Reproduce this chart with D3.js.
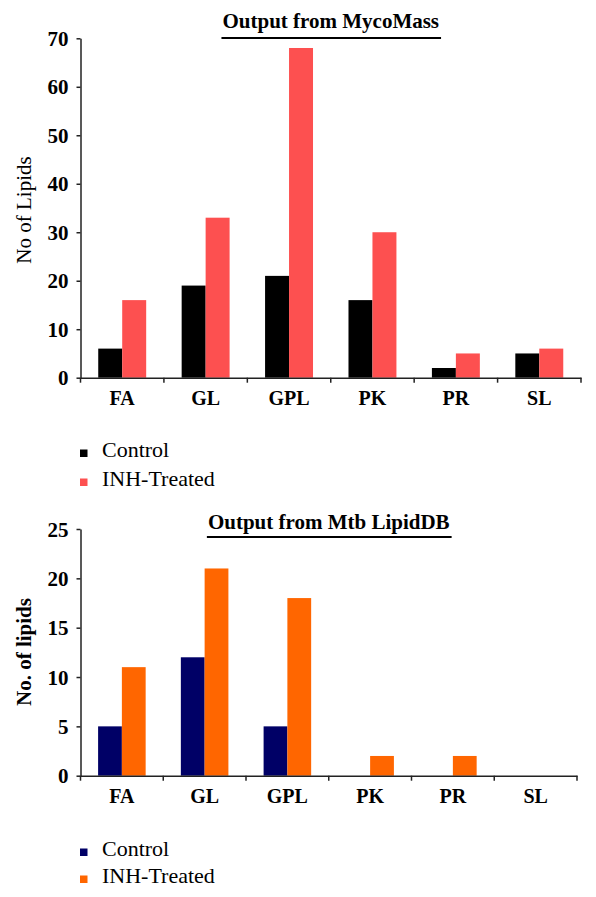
<!DOCTYPE html>
<html><head><meta charset="utf-8">
<script src="https://cdn.jsdelivr.net/npm/d3@7"></script>
<style>
body{margin:0;background:#fff}svg{display:block}
.tick-y{font-family:"Liberation Serif";font-weight:bold;font-size:21px;fill:#000}
.tick-x{font-family:"Liberation Serif";font-weight:bold;font-size:20px;fill:#000}
.title{font-family:"Liberation Serif";font-weight:bold;font-size:21px;fill:#000}
.ytitle{font-family:"Liberation Serif";font-size:21px;fill:#000}
.ytitle.b{font-weight:bold}
.leg{font-family:"Liberation Serif";font-size:22px;fill:#000}
</style>
</head><body>
<svg id="c" width="596" height="897"></svg>
<script>
const categories = ["FA","GL","GPL","PK","PR","SL"];
const series = ["Control","INH-Treated"];
const mycoControl = [6,19,21,16,2,5];
const mycoINH = [16,33,68,30,5,6];
const mtbControl = [5,12,5,0,0,0];
const mtbINH = [11,21,18,2,2,0];
const mycoTicks = [0,10,20,30,40,50,60,70];
const mtbTicks = [0,5,10,15,20,25];

const svg = d3.select("#c");

function panel(o){
  const g = svg.append("g");
  const x = d3.scaleBand().domain(categories).range([o.x0,o.x1]).padding(0);
  const xi = d3.scaleBand().domain(series).range([0,x.bandwidth()]).paddingInner(0).paddingOuter(0.74);
  const y = d3.scaleLinear().domain([0,o.ymax]).range([o.y0,o.y1]);
  const data = categories.map((c,i)=>({c, vals:[o.a[i],o.b[i]]}));
  const grp = g.selectAll("g.grp").data(data).join("g").attr("transform",d=>`translate(${x(d.c)},0)`);
  grp.selectAll("rect").data(d=>d.vals.map((v,j)=>({s:series[j],v,j}))).join("rect")
    .attr("x",d=>xi(d.s)).attr("width",xi.bandwidth())
    .attr("y",d=>y(d.v)).attr("height",d=>y(0)-y(d.v))
    .attr("fill",d=>o.colors[d.j]);
  const ya = g.append("g").attr("transform",`translate(${o.x0},0)`)
    .call(d3.axisLeft(y).tickValues(o.ticks).tickSize(4).tickPadding(8).tickSizeOuter(0));
  ya.attr("font-family",null).attr("font-size",null);
  ya.select(".domain").attr("stroke","#222").attr("stroke-width",1.5);
  ya.selectAll(".tick line").attr("stroke","#222").attr("stroke-width",1.5);
  ya.selectAll("text").attr("class","tick-y").attr("fill",null).attr("dy","0.34em");
  const xa = g.append("g").attr("transform",`translate(0,${o.y0})`)
    .call(d3.axisBottom(x).tickSize(0).tickPadding(13).tickSizeOuter(0));
  xa.attr("font-family",null).attr("font-size",null);
  xa.select(".domain").attr("stroke","#222").attr("stroke-width",1.5);
  xa.selectAll("text").attr("class","tick-x").attr("fill",null);
  const bounds = categories.map(c=>x(c)).concat([o.x1]);
  g.selectAll("line.bt").data(bounds).join("line")
    .attr("x1",d=>d).attr("x2",d=>d).attr("y1",o.y0).attr("y2",o.y0+5)
    .attr("stroke","#222").attr("stroke-width",1.5);
  const cx = (o.x0+o.x1)/2;
  const t = g.append("text").attr("class","title").attr("x",cx).attr("y",o.titleY).attr("text-anchor","middle").text(o.title);
  const w = t.node().getComputedTextLength();
  g.append("line").attr("x1",cx-w/2-1).attr("x2",cx+w/2+2).attr("y1",o.titleY+o.ulOff).attr("y2",o.titleY+o.ulOff)
    .attr("stroke","#000").attr("stroke-width",2);
  g.append("text").attr("class","ytitle"+(o.ytBold?" b":"")).attr("transform",`translate(${o.ytx},${o.yty}) rotate(-90)`)
    .attr("text-anchor","middle").text(o.ytitle);
  series.forEach((s,j)=>{
    const ly = o.legY + j*o.legGap;
    g.append("rect").attr("x",80).attr("y",ly-7.5).attr("width",7.5).attr("height",7.5).attr("fill",o.colors[j]);
    g.append("text").attr("class","leg").attr("x",102).attr("y",ly).text(s);
  });
}

panel({x0:80.5,x1:581,y0:377.7,y1:38.3,ymax:70,ticks:mycoTicks,a:mycoControl,b:mycoINH,
  colors:["#000000","#fd5050"],title:"Output from MycoMass",titleY:28,ulOff:10,ytitle:"No of Lipids",ytx:31,yty:210,ytBold:false,
  legY:457,legGap:29});
panel({x0:80.5,x1:577,y0:775.7,y1:529,ymax:25,ticks:mtbTicks,a:mtbControl,b:mtbINH,
  colors:["#000066","#ff6600"],title:"Output from Mtb LipidDB",titleY:529,ulOff:8,ytitle:"No. of lipids",ytx:31,yty:652,ytBold:true,
  legY:856,legGap:27});
</script>
</body></html>
